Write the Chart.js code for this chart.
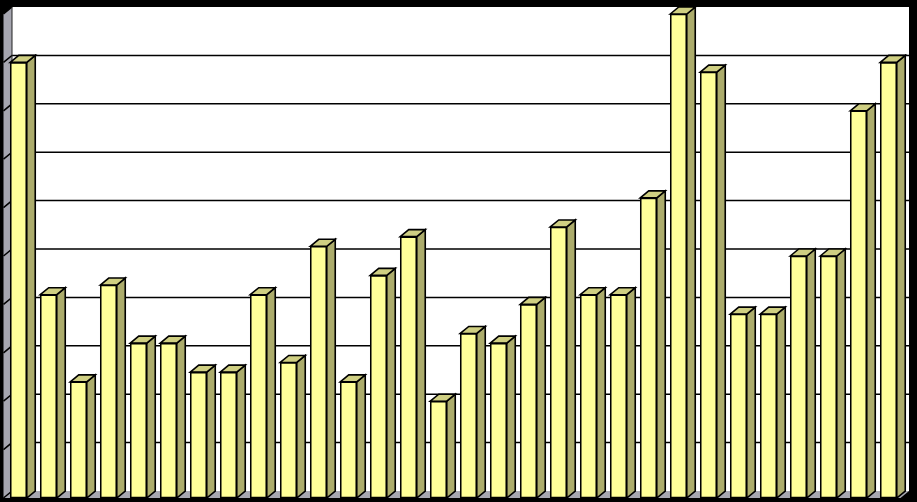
<!DOCTYPE html>
<html>
<head>
<meta charset="utf-8">
<style>html,body{margin:0;padding:0;background:#000}canvas{display:block}</style>
<script src="https://cdn.jsdelivr.net/npm/chart.js@4"></script>
</head>
<body>
<canvas id="c" width="917" height="502"></canvas>
<script>
const categories = ["1","2","3","4","5","6","7","8","9","10","11","12","13","14","15","16","17","18","19","20","21","22","23","24","25","26","27","28","29","30"];
const seriesValues = [45,21,12,22,16,16,13,13,21,14,26,12,23,27,10,17,16,20,28,21,21,31,50,44,19,19,25,25,40,45];
const yMin = 0, yMax = 50, yStep = 5;

const DX = 8.5, DY = 7, WALL_INSET = 3;
const poly = (ctx, pts, fill, stroke, lw) => {
  ctx.beginPath();
  pts.forEach((p, i) => i ? ctx.lineTo(p[0], p[1]) : ctx.moveTo(p[0], p[1]));
  ctx.closePath();
  if (fill) { ctx.fillStyle = fill; ctx.fill(); }
  if (stroke) { ctx.strokeStyle = stroke; ctx.lineWidth = lw; ctx.stroke(); }
};
const walls = {
  id: 'walls',
  beforeDatasetsDraw(chart) {
    const {ctx, chartArea: a, scales: {y}} = chart;
    ctx.save();
    const top = y.getPixelForValue(yMax), base = y.getPixelForValue(yMin);
    const right = a.right - WALL_INSET;
    poly(ctx, [[a.left + DX, top - DY], [right + DX, top - DY], [right + DX, base - DY], [a.left + DX, base - DY]], '#ffffff');
    poly(ctx, [[a.left, top], [a.left + DX, top - DY], [a.left + DX, base - DY], [a.left, base]], '#a6a6b0');
    poly(ctx, [[a.left, base], [a.left + DX, base - DY], [right + DX, base - DY], [right, base]], '#a6a6b0');
    ctx.strokeStyle = '#000'; ctx.lineWidth = 1.5;
    y.ticks.forEach(t => {
      const py = y.getPixelForValue(t.value);
      ctx.beginPath();
      ctx.moveTo(a.left, py);
      ctx.lineTo(a.left + DX, py - DY);
      if (t.value > yMin && t.value < yMax) ctx.lineTo(right + DX, py - DY);
      ctx.stroke();
    });
    ctx.beginPath();
    ctx.moveTo(a.left + DX, top - DY); ctx.lineTo(a.left + DX, base - DY);
    ctx.lineWidth = 1; ctx.strokeStyle = '#222'; ctx.stroke();
    const meta = chart.getDatasetMeta(0);
    meta.data.forEach(bar => {
      const l = bar.x - bar.width / 2, r = bar.x + bar.width / 2, t = bar.y, b = bar.base;
      poly(ctx, [[r, t], [r + DX, t - DY], [r + DX, b - DY], [r, b]], '#acac6c', '#000', 1.6);
      poly(ctx, [[l, t], [l + DX, t - DY], [r + DX, t - DY], [r, t]], '#cfcf82', '#000', 1.6);
    });
    ctx.restore();
  }
};

new Chart(document.getElementById('c'), {
  type: 'bar',
  plugins: [walls],
  data: {
    labels: categories,
    datasets: [{
      data: seriesValues,
      backgroundColor: '#ffff99',
      borderColor: '#000000',
      borderWidth: 1.6,
      barThickness: 16.5,
      borderSkipped: false
    }]
  },
  options: {
    responsive: false,
    animation: false,
    layout: {padding: {left: 3.5, right: 13.5, top: 14, bottom: 4}},
    plugins: {legend: {display: false}, tooltip: {enabled: false}, title: {display: false}},
    scales: {
      x: {display: false, offset: true, grid: {display: false}},
      y: {display: false, min: yMin, max: yMax, ticks: {stepSize: yStep}, grid: {display: false}}
    }
  }
});
</script>
</body>
</html>
